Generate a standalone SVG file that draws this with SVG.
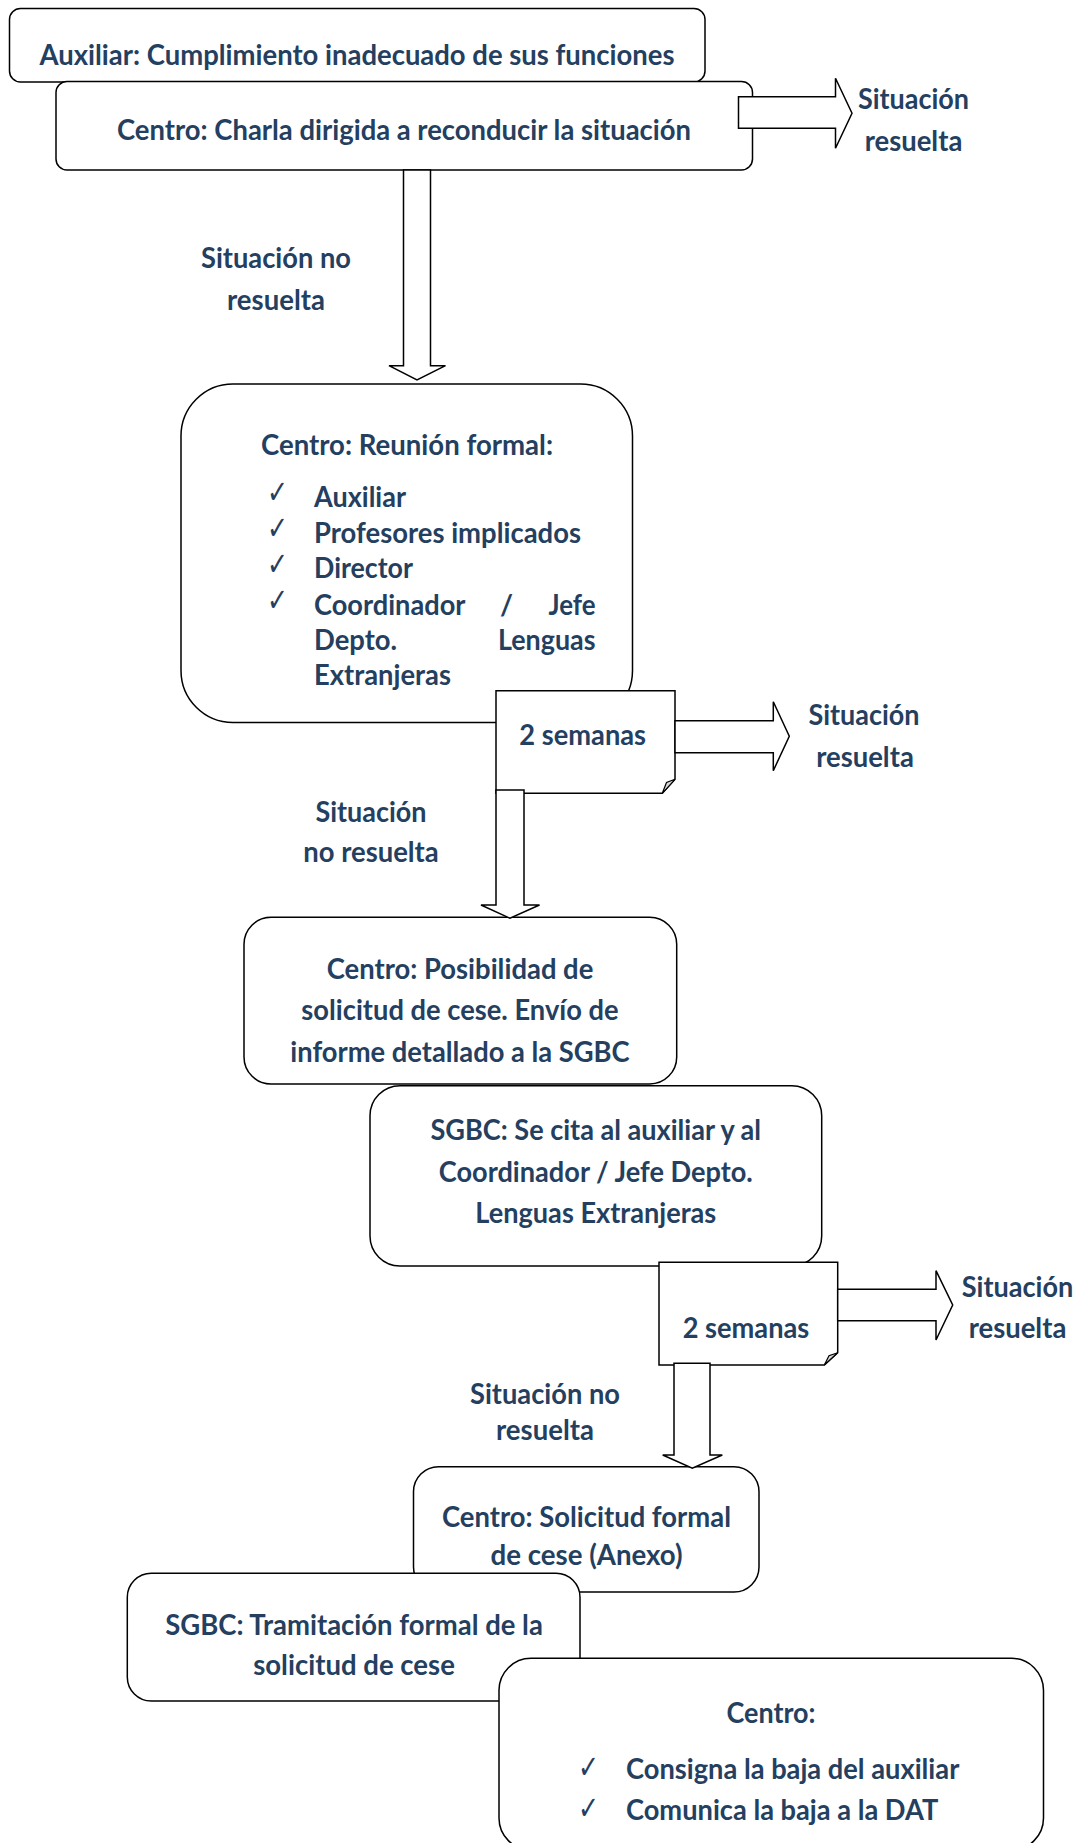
<svg xmlns="http://www.w3.org/2000/svg" width="1084" height="1843" viewBox="0 0 1084 1843">
<style>
  .box { fill: #ffffff; stroke: #000000; stroke-width: 1.5; }
  .arr { fill: #ffffff; stroke: #000000; stroke-width: 1.5; stroke-linejoin: miter; }
  .fold { fill: #d9d9d9; stroke: #000000; stroke-width: 1.2; }
  .t { font-family: Lato, "Liberation Sans", sans-serif; font-weight: bold; font-size: 28px; fill: #243F60; }
  .c { text-anchor: middle; }
  .e { text-anchor: end; }
  .chk { font-family: "DejaVu Sans", sans-serif; font-weight: bold; font-size: 32px; fill: #243F60; }
</style>
<rect width="1084" height="1843" fill="#ffffff"/>

<g id="n1">
  <rect class="box" x="9.5" y="8.5" width="695.5" height="73.5" rx="11"/>
  <text class="t c" x="357" y="64.5" textLength="635" lengthAdjust="spacingAndGlyphs">Auxiliar: Cumplimiento inadecuado de sus funciones</text>
</g>

<g id="n2">
  <rect class="box" x="56" y="81.5" width="696.5" height="88.5" rx="11"/>
  <text class="t c" x="404" y="139.5" textLength="574" lengthAdjust="spacingAndGlyphs">Centro: Charla dirigida a reconducir la situación</text>
</g>

<g id="n3">
  <rect class="box" x="181" y="384" width="451.5" height="338.5" rx="52"/>
  <text class="t" x="261" y="455" textLength="292" lengthAdjust="spacingAndGlyphs">Centro: Reunión formal:</text>
  <text class="chk" x="267" y="503" textLength="21" lengthAdjust="spacingAndGlyphs">✓</text>
  <text class="chk" x="267" y="539" textLength="21" lengthAdjust="spacingAndGlyphs">✓</text>
  <text class="chk" x="267" y="575" textLength="21" lengthAdjust="spacingAndGlyphs">✓</text>
  <text class="chk" x="267" y="611" textLength="21" lengthAdjust="spacingAndGlyphs">✓</text>
  <text class="t" x="314" y="506.7" textLength="92" lengthAdjust="spacingAndGlyphs">Auxiliar</text>
  <text class="t" x="314" y="542.7" textLength="267" lengthAdjust="spacingAndGlyphs">Profesores implicados</text>
  <text class="t" x="314" y="578.3" textLength="99" lengthAdjust="spacingAndGlyphs">Director</text>
  <text class="t" x="314" y="615" textLength="151.5" lengthAdjust="spacingAndGlyphs">Coordinador</text>
  <text class="t c" x="506.5" y="615">/</text>
  <text class="t e" x="595.5" y="615" textLength="47" lengthAdjust="spacingAndGlyphs">Jefe</text>
  <text class="t" x="314" y="650" textLength="83" lengthAdjust="spacingAndGlyphs">Depto.</text>
  <text class="t e" x="595.5" y="650" textLength="97.5" lengthAdjust="spacingAndGlyphs">Lenguas</text>
  <text class="t" x="314" y="685" textLength="137" lengthAdjust="spacingAndGlyphs">Extranjeras</text>
</g>

<g id="n4">
  <path class="box" d="M496,690.7 H675 V779.3 L662.3,793.3 H496 Z"/>
  <path class="fold" d="M675,779.3 L666.5,782.5 L662.3,793.3 Z"/>
  <text class="t c" x="582.7" y="745" textLength="126.7" lengthAdjust="spacingAndGlyphs">2 semanas</text>
</g>

<g id="n5">
  <rect class="box" x="244" y="917.3" width="432.7" height="166.7" rx="27"/>
  <text class="t c" x="460" y="979" textLength="266.7" lengthAdjust="spacingAndGlyphs">Centro: Posibilidad de</text>
  <text class="t c" x="460" y="1020" textLength="317.3" lengthAdjust="spacingAndGlyphs">solicitud de cese. Envío de</text>
  <text class="t c" x="460" y="1061.7" textLength="339.3" lengthAdjust="spacingAndGlyphs">informe detallado a la SGBC</text>
</g>

<g id="n6">
  <rect class="box" x="370" y="1085.7" width="451.7" height="180.3" rx="30"/>
  <text class="t c" x="595.8" y="1140" textLength="330.6" lengthAdjust="spacingAndGlyphs">SGBC: Se cita al auxiliar y al</text>
  <text class="t c" x="595.8" y="1181.7" textLength="314" lengthAdjust="spacingAndGlyphs">Coordinador / Jefe Depto.</text>
  <text class="t c" x="595.8" y="1222.7" textLength="241" lengthAdjust="spacingAndGlyphs">Lenguas Extranjeras</text>
</g>

<g id="n7">
  <path class="box" d="M659,1262.3 H837.7 V1352.7 L824.3,1365 H659 Z"/>
  <path class="fold" d="M837.7,1352.7 L829,1355.7 L824.3,1365 Z"/>
  <text class="t c" x="746" y="1338.3" textLength="126.6" lengthAdjust="spacingAndGlyphs">2 semanas</text>
</g>

<g id="n8">
  <rect class="box" x="413.5" y="1466.7" width="345.5" height="125.3" rx="25"/>
  <text class="t c" x="586.5" y="1527" textLength="289" lengthAdjust="spacingAndGlyphs">Centro: Solicitud formal</text>
  <text class="t c" x="586.5" y="1565" textLength="192" lengthAdjust="spacingAndGlyphs">de cese (Anexo)</text>
</g>

<g id="n9">
  <rect class="box" x="127.3" y="1573.3" width="452.7" height="127.7" rx="24"/>
  <text class="t c" x="354" y="1635" textLength="377.7" lengthAdjust="spacingAndGlyphs">SGBC: Tramitación formal de la</text>
  <text class="t c" x="354" y="1675" textLength="201.7" lengthAdjust="spacingAndGlyphs">solicitud de cese</text>
</g>

<g id="n10">
  <rect class="box" x="499" y="1658.3" width="544.5" height="191.7" rx="32"/>
  <text class="t c" x="771" y="1723" textLength="89" lengthAdjust="spacingAndGlyphs">Centro:</text>
  <text class="chk" x="578" y="1778" textLength="21" lengthAdjust="spacingAndGlyphs">✓</text>
  <text class="chk" x="578" y="1819" textLength="21" lengthAdjust="spacingAndGlyphs">✓</text>
  <text class="t" x="626" y="1779" textLength="333.3" lengthAdjust="spacingAndGlyphs">Consigna la baja del auxiliar</text>
  <text class="t" x="626" y="1820" textLength="312.3" lengthAdjust="spacingAndGlyphs">Comunica la baja a la DAT</text>
</g>

<g id="connectors">
  <path class="arr" d="M738.5,96.7 H835.5 V78.3 L852,113.3 L835.5,148.3 V128.3 H738.5 Z"/>
  <path class="arr" d="M403.5,170 H430.5 V365.7 H445.5 L417,380 L389,365.7 H403.5 Z"/>
  <path class="arr" d="M675,720.7 H773.3 V701.7 L789.3,736.2 L773.3,770.7 V752.7 H675 Z"/>
  <path class="arr" d="M496,790 H524 V905 H539.5 L510,918.3 L481,905 H496 Z"/>
  <path class="arr" d="M837.7,1289.3 H936 V1270.7 L952.7,1305 L936,1340 V1320.7 H837.7 Z"/>
  <path class="arr" d="M674,1363.3 H710 V1455 H722.3 L692.3,1468.3 L662.7,1455 H674 Z"/>
</g>

<g id="labels">
  <text class="t c" x="913.5" y="109" textLength="111" lengthAdjust="spacingAndGlyphs">Situación</text>
  <text class="t c" x="913.5" y="151" textLength="97.7" lengthAdjust="spacingAndGlyphs">resuelta</text>
  <text class="t c" x="276" y="268" textLength="150" lengthAdjust="spacingAndGlyphs">Situación no</text>
  <text class="t c" x="276" y="310" textLength="98" lengthAdjust="spacingAndGlyphs">resuelta</text>
  <text class="t c" x="864" y="725" textLength="111" lengthAdjust="spacingAndGlyphs">Situación</text>
  <text class="t c" x="865" y="766.7" textLength="97.7" lengthAdjust="spacingAndGlyphs">resuelta</text>
  <text class="t c" x="371" y="821.7" textLength="111" lengthAdjust="spacingAndGlyphs">Situación</text>
  <text class="t c" x="371" y="861.7" textLength="135.5" lengthAdjust="spacingAndGlyphs">no resuelta</text>
  <text class="t c" x="1017.5" y="1297.3" textLength="111.6" lengthAdjust="spacingAndGlyphs">Situación</text>
  <text class="t c" x="1017.5" y="1338.3" textLength="97.7" lengthAdjust="spacingAndGlyphs">resuelta</text>
  <text class="t c" x="545" y="1404" textLength="150" lengthAdjust="spacingAndGlyphs">Situación no</text>
  <text class="t c" x="545" y="1440" textLength="98" lengthAdjust="spacingAndGlyphs">resuelta</text>
</g>
</svg>
